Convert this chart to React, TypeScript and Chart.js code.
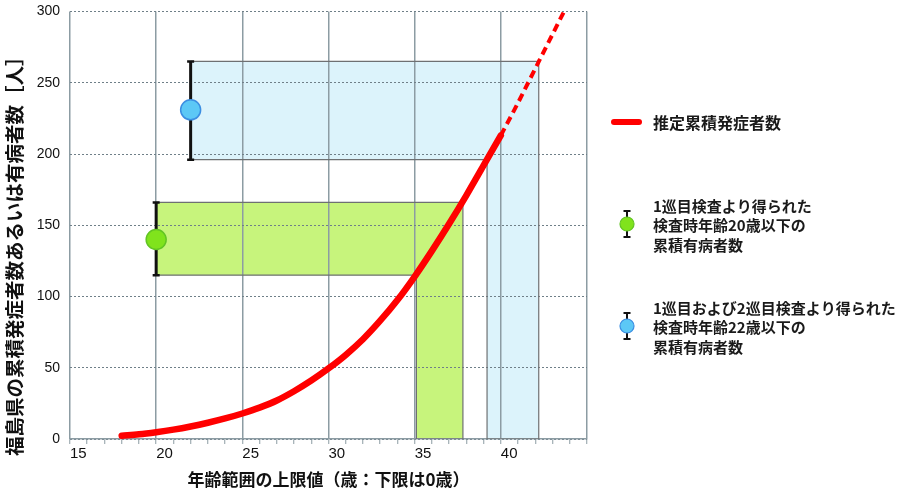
import { useEffect, useRef } from 'react';
import { Chart, registerables } from 'chart.js';

Chart.register(...registerables);

// ---- data ----
const fitAges = [18, 19, 20, 21, 22, 23, 24, 25, 26, 27, 28, 29, 30, 31, 32, 33, 34, 35, 36, 37, 38, 39, 40];
const fitCounts = [2.3, 3.3, 4.8, 6.6, 8.8, 11.4, 14.4, 17.9, 22, 27, 33.5, 41, 49.5, 59, 70, 83, 97.5, 114, 132, 151, 171, 192, 213];
const extAges = [40, 41, 42, 43, 44];
const extCounts = [213, 236, 260, 284, 308];

const obsAges = [20, 22];
const obsCounts = [140, 231];
const obsLower = [115, 196];
const obsUpper = [166, 265];
const ageLower = [35.1, 39.2];
const ageUpper = [37.8, 42.2];

const xTickValues = [15, 20, 25, 30, 35, 40];
const yTickStep = 50;

const xTitle = '年齢範囲の上限値（歳：下限は0歳）';
const yTitle = '福島県の累積発症者数あるいは有病者数［人］';
const curveLabel = '推定累積発症者数';
const obsLabels = [
  ['1巡目検査より得られた', '検査時年齢20歳以下の', '累積有病者数'],
  ['1巡目および2巡目検査より得られた', '検査時年齢22歳以下の', '累積有病者数'],
];

// ---- styles ----
const RED = '#ff0000';
const rectFill = ['#c7f47c', '#dcf3fb'];
const pointFill = ['#80e31c', '#5cc8f6'];
const pointBorder = ['#62c424', '#3b8ee2'];
const rectLine = '#6e7072';
const vGrid = '#8c9ca3';
const hGrid = '#6f7f88';
const JP = '"Noto Sans CJK JP", sans-serif';
const LAT = '"Liberation Sans", Arial, sans-serif';

function shapeFill(i: number) {
  return [
    { x: obsAges[i], y: obsUpper[i] },
    { x: obsAges[i], y: obsLower[i] },
    { x: ageLower[i], y: obsLower[i] },
    { x: ageLower[i], y: 0 },
    { x: ageUpper[i], y: 0 },
    { x: ageUpper[i], y: obsUpper[i] },
  ];
}
function shapeOutline(i: number) {
  return [...shapeFill(i), { x: obsAges[i], y: obsUpper[i] }];
}

const sidePlugin = {
  id: 'sideText',
  afterDraw(chart: any) {
    const ctx = chart.ctx as CanvasRenderingContext2D;
    const area = chart.chartArea;
    ctx.save();
    // y-axis title
    ctx.save();
    ctx.translate(15, (area.top + area.bottom) / 2 + 26);
    ctx.rotate(-Math.PI / 2);
    ctx.font = `bold 19.5px ${JP}`;
    ctx.fillStyle = '#111';
    ctx.textAlign = 'center';
    ctx.textBaseline = 'middle';
    ctx.fillText(yTitle, 0, 0);
    ctx.restore();

    // legend
    const tx = 653;
    ctx.textAlign = 'left';
    ctx.textBaseline = 'middle';
    ctx.strokeStyle = RED;
    ctx.lineWidth = 6;
    ctx.lineCap = 'round';
    ctx.beginPath();
    ctx.moveTo(614, 122);
    ctx.lineTo(639, 122);
    ctx.stroke();
    ctx.font = `bold 16px ${JP}`;
    ctx.fillStyle = '#1a1a1a';
    ctx.fillText(curveLabel, tx, 123);

    ctx.font = `bold 15px ${JP}`;
    const blocks = [206, 308];
    const markerY = [224, 326];
    obsLabels.forEach((lines, i) => {
      lines.forEach((ln, j) => {
        ctx.fillStyle = '#1a1a1a';
        ctx.fillText(ln, tx, blocks[i] + j * 19.5);
      });
      const mx = 627;
      const my = markerY[i];
      ctx.strokeStyle = '#111';
      ctx.lineCap = 'butt';
      ctx.lineWidth = 2;
      ctx.beginPath();
      ctx.moveTo(mx, my - 13);
      ctx.lineTo(mx, my + 13);
      ctx.moveTo(mx - 3.5, my - 13);
      ctx.lineTo(mx + 3.5, my - 13);
      ctx.moveTo(mx - 3.5, my + 13);
      ctx.lineTo(mx + 3.5, my + 13);
      ctx.stroke();
      ctx.beginPath();
      ctx.arc(mx, my, 7, 0, Math.PI * 2);
      ctx.fillStyle = pointFill[i];
      ctx.fill();
      ctx.lineWidth = 1.2;
      ctx.strokeStyle = pointBorder[i];
      ctx.stroke();
    });
    ctx.restore();
  },
};

export default function App() {
  const ref = useRef<HTMLCanvasElement>(null);
  useEffect(() => {
    const canvas = ref.current;
    if (!canvas) return;

    const datasets: any[] = [];
    // observed points (top)
    obsAges.forEach((a, i) => {
      datasets.push({
        data: [{ x: a, y: obsCounts[i] }],
        showLine: false,
        pointRadius: 10,
        pointBackgroundColor: pointFill[i],
        pointBorderColor: pointBorder[i],
        pointBorderWidth: 1.5,
        order: 0,
      });
    });
    // error bars
    obsAges.forEach((a, i) => {
      datasets.push({
        data: [{ x: a, y: obsLower[i] }, { x: a, y: obsUpper[i] }],
        borderColor: '#111',
        borderWidth: 3,
        pointStyle: 'line',
        pointRadius: 3.5,
        pointBorderWidth: 2.5,
        pointBorderColor: '#111',
        order: 1,
      });
    });
    // fitted curve
    datasets.push({
      data: fitAges.map((a, i) => ({ x: a, y: fitCounts[i] })),
      borderColor: RED,
      borderWidth: 6.5,
      borderCapStyle: 'round',
      cubicInterpolationMode: 'monotone',
      pointRadius: 0,
      order: 2,
    });
    datasets.push({
      data: extAges.map((a, i) => ({ x: a, y: extCounts[i] })),
      borderColor: RED,
      borderWidth: 4,
      borderDash: [8, 5],
      cubicInterpolationMode: 'monotone',
      pointRadius: 0,
      order: 3,
    });
    // range outlines and fills
    obsAges.forEach((_, i) => {
      datasets.push({
        data: shapeOutline(i),
        borderColor: rectLine,
        borderWidth: 1.2,
        pointRadius: 0,
        fill: false,
        order: 4,
      });
      datasets.push({
        data: shapeFill(i),
        borderWidth: 0,
        borderColor: 'rgba(0,0,0,0)',
        backgroundColor: rectFill[i],
        pointRadius: 0,
        fill: 'shape',
        order: 5,
      });
    });

    const chart = new Chart(canvas, {
      type: 'line',
      data: { datasets },
      plugins: [sidePlugin],
      options: {
        responsive: false,
        animation: false,
        devicePixelRatio: 1,
        events: [],
        layout: { padding: { left: 0, right: 313, top: 0, bottom: 0 } },
        plugins: {
          legend: { display: false },
          tooltip: { enabled: false },
          filler: { drawTime: 'beforeDraw' },
        },
        scales: {
          x: {
            type: 'linear',
            min: 15,
            max: 45,
            afterFit: (s: any) => { s.height = 53; },
            grid: {
              color: (c: any) => (c.tick && c.tick.value % 5 === 0 ? vGrid : 'rgba(0,0,0,0)'),
              tickColor: vGrid,
              lineWidth: 1.5,
              tickWidth: 1,
              tickLength: 5,
            },
            border: { display: true, color: vGrid, width: 1.5 },
            ticks: {
              stepSize: 1,
              autoSkip: false,
              maxRotation: 0,
              align: 'start',
              padding: 1,
              color: '#111',
              font: { family: LAT, size: 15 },
              callback: (v: any) => (xTickValues.includes(Number(v)) ? String(v) : ''),
            },
            title: {
              display: true,
              text: xTitle,
              color: '#111',
              font: { family: JP, size: 17, weight: 'bold' },
              padding: { top: 0, bottom: 2 },
            },
          },
          y: {
            type: 'linear',
            min: 0,
            max: 300,
            afterFit: (s: any) => { s.width = 70; },
            grid: {
              color: hGrid,
              lineWidth: 1,
              drawTicks: true,
              tickLength: 9,
              tickColor: 'rgba(0,0,0,0)',
            },
            border: { display: false, dash: [2, 2] },
            ticks: {
              stepSize: yTickStep,
              padding: 1,
              color: '#111',
              font: { family: LAT, size: 14 },
            },
          },
        },
      } as any,
    });
    return () => chart.destroy();
  }, []);

  return (
    <div style={{ position: 'fixed', left: 0, top: 0, width: 900, height: 492, background: '#fff' }}>
      <canvas ref={ref} width={900} height={492} style={{ display: 'block', width: 900, height: 492 }} />
    </div>
  );
}
